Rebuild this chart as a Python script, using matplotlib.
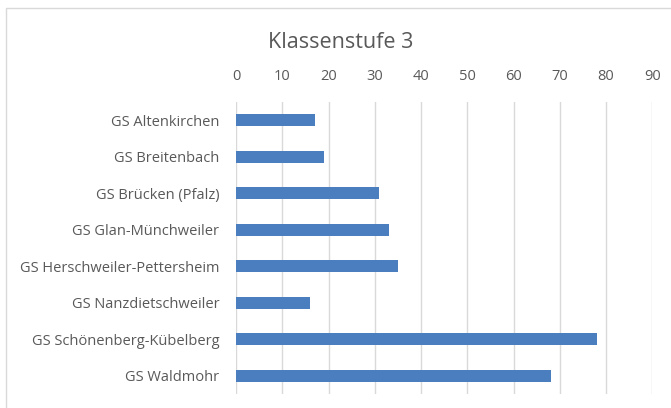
import matplotlib
matplotlib.use('Agg')
import matplotlib.pyplot as plt
from matplotlib.patches import Rectangle

# data
schools = ['GS Altenkirchen', 'GS Breitenbach', 'GS Brücken (Pfalz)',
           'GS Glan-Münchweiler', 'GS Herschweiler-Pettersheim',
           'GS Nanzdietschweiler', 'GS Schönenberg-Kübelberg', 'GS Waldmohr']
values = [17, 19, 31, 33, 35, 16, 78, 68]
xticks = [0, 10, 20, 30, 40, 50, 60, 70, 80, 90]

plt.rcParams['font.family'] = ['Open Sans', 'DejaVu Sans']
grey = '#595959'

fig = plt.figure(figsize=(6.71, 4.08), dpi=100)
# chart border (Excel chart area)
fig.patches.append(Rectangle((6 / 671, -0.1), 2, 1.1 - 8 / 408, transform=fig.transFigure,
                             fill=False, edgecolor='#d9d9d9', linewidth=1))

ax = fig.add_axes([236 / 671, 1 - 394 / 408, (652.3 - 236) / 671, (394 - 102) / 408])
ypos = range(len(schools))
ax.barh(ypos, values, height=0.33, color='#4a7ebf', zorder=3)
ax.set_ylim(len(schools) - 0.5, -0.5)
ax.set_yticks(list(ypos))
ax.set_yticklabels(schools)
ax.set_xlim(0, 90)
ax.set_xticks(xticks)
ax.xaxis.tick_top()
ax.tick_params(axis='x', length=0, pad=13, labelsize=10.5, labelcolor=grey)
ax.tick_params(axis='y', length=0, pad=12, labelsize=10.5, labelcolor=grey)
ax.grid(axis='x', color='#d9d9d9', linewidth=1, zorder=0)
for s in ['top', 'right', 'bottom', 'left']:
    ax.spines[s].set_visible(False)

fig.text(0.507, 0.897, 'Klassenstufe 3', ha='center', va='center', fontsize=15.5, color=grey)

fig.savefig('out.png', dpi=100)
